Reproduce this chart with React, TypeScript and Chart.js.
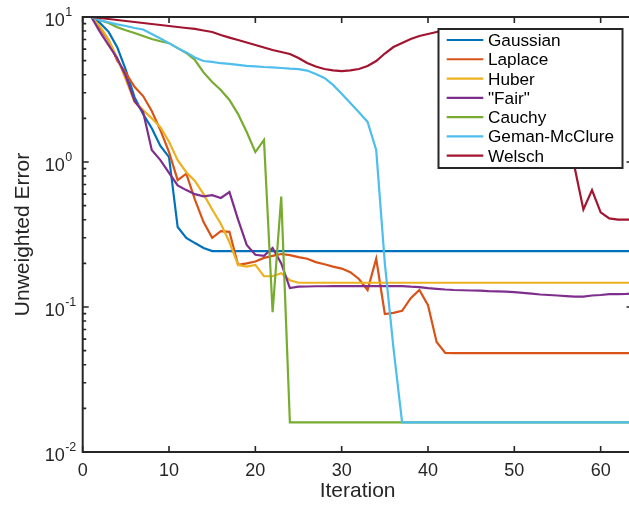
import React, { useEffect, useRef } from 'react';
import { Chart, registerables } from 'chart.js';

Chart.register(...registerables);

const iterations = [
  1, 2, 3, 4, 5, 6, 7, 8, 9, 10, 11, 12, 13, 14, 15, 16, 17, 18, 19, 20, 21, 22, 23, 24, 25, 26, 27, 28, 29, 30, 31, 32,
  33, 34, 35, 36, 37, 38, 39, 40, 41, 42, 43, 44, 45, 46, 47, 48, 49, 50, 51, 52, 53, 54, 55, 56, 57, 58, 59, 60, 61, 62, 63, 64,
];

const seriesNames = ['Gaussian', 'Laplace', 'Huber', '"Fair"', 'Cauchy', 'Geman-McClure', 'Welsch'];
const seriesColors = ['#0072BD', '#D95319', '#EDB120', '#7E2F8E', '#77AC30', '#4DBEEE', '#A2142F'];

const gaussian = [
  10, 9.1, 7.9, 6.2, 4.3, 2.8, 2.14, 1.71, 1.29, 1.08, 0.356, 0.3, 0.276, 0.255, 0.243, 0.243,
  0.243, 0.243, 0.243, 0.243, 0.243, 0.243, 0.243, 0.243, 0.243, 0.243, 0.243, 0.243, 0.243, 0.243, 0.243, 0.243,
  0.243, 0.243, 0.243, 0.243, 0.243, 0.243, 0.243, 0.243, 0.243, 0.243, 0.243, 0.243, 0.243, 0.243, 0.243, 0.243,
  0.243, 0.243, 0.243, 0.243, 0.243, 0.243, 0.243, 0.243, 0.243, 0.243, 0.243, 0.243, 0.243, 0.243, 0.243, 0.243,
];

const laplace = [
  10, 8.4, 6.9, 5.0, 4.1, 3.3, 2.85, 2.25, 1.66, 1.17, 0.75, 0.83, 0.55, 0.385, 0.3, 0.334,
  0.33, 0.195, 0.2, 0.206, 0.218, 0.225, 0.232, 0.228, 0.221, 0.215, 0.204, 0.197, 0.19, 0.184, 0.174, 0.156,
  0.131, 0.215, 0.0895, 0.091, 0.094, 0.115, 0.131, 0.103, 0.0574, 0.0482, 0.048, 0.048, 0.048, 0.048, 0.048, 0.048,
  0.048, 0.048, 0.048, 0.048, 0.048, 0.048, 0.048, 0.048, 0.048, 0.048, 0.048, 0.048, 0.048, 0.048, 0.048, 0.048,
];

const huber = [
  10, 8.6, 7.0, 5.2, 3.7, 2.6, 2.28, 2.0, 1.74, 1.38, 1.03, 0.85, 0.74, 0.6, 0.47, 0.375,
  0.28, 0.195, 0.19, 0.195, 0.163, 0.163, 0.171, 0.153, 0.147, 0.147, 0.147, 0.147, 0.147, 0.147, 0.147, 0.147,
  0.147, 0.147, 0.147, 0.147, 0.147, 0.147, 0.147, 0.147, 0.147, 0.147, 0.147, 0.147, 0.147, 0.147, 0.147, 0.147,
  0.147, 0.147, 0.147, 0.147, 0.147, 0.147, 0.147, 0.147, 0.147, 0.147, 0.147, 0.147, 0.147, 0.147, 0.147, 0.147,
];

const fair = [
  10, 7.9, 6.4, 5.2, 3.9, 2.64, 2.21, 1.21, 1.03, 0.84, 0.69, 0.64, 0.6, 0.58, 0.59, 0.565,
  0.62, 0.4, 0.268, 0.229, 0.225, 0.255, 0.2, 0.135, 0.138, 0.1385, 0.139, 0.139, 0.1395, 0.1395, 0.1395, 0.1395,
  0.1395, 0.1395, 0.1395, 0.1395, 0.1395, 0.138, 0.137, 0.135, 0.1335, 0.132, 0.131, 0.1305, 0.13, 0.1295, 0.1285, 0.128,
  0.1275, 0.1265, 0.125, 0.1235, 0.122, 0.121, 0.12, 0.119, 0.118, 0.118, 0.12, 0.121, 0.1225, 0.1225, 0.123, 0.124,
];

const cauchy = [
  10, 9.5, 9.1, 8.5, 8.1, 7.76, 7.4, 7.05, 6.8, 6.6, 6.1, 5.65, 5.05, 4.15, 3.56, 3.14,
  2.68, 2.14, 1.61, 1.17, 1.42, 0.092, 0.577, 0.016, 0.016, 0.016, 0.016, 0.016, 0.016, 0.016, 0.016, 0.016,
  0.016, 0.016, 0.016, 0.016, 0.016, 0.016, 0.016, 0.016, 0.016, 0.016, 0.016, 0.016, 0.016, 0.016, 0.016, 0.016,
  0.016, 0.016, 0.016, 0.016, 0.016, 0.016, 0.016, 0.016, 0.016, 0.016, 0.016, 0.016, 0.016, 0.016, 0.016, 0.016,
];

const gemanMcClure = [
  10, 9.5, 9.2, 8.9, 8.67, 8.4, 8.2, 7.63, 7.1, 6.6, 6.1, 5.7, 5.26, 4.97, 4.9, 4.8,
  4.75, 4.67, 4.6, 4.56, 4.52, 4.5, 4.45, 4.4, 4.37, 4.27, 4.05, 3.8, 3.4, 2.96, 2.55, 2.2,
  1.89, 1.21, 0.2, 0.052, 0.016, 0.016, 0.016, 0.016, 0.016, 0.016, 0.016, 0.016, 0.016, 0.016, 0.016, 0.016,
  0.016, 0.016, 0.016, 0.016, 0.016, 0.016, 0.016, 0.016, 0.016, 0.016, 0.016, 0.016, 0.016, 0.016, 0.016, 0.016,
];

const welsch = [
  10, 9.84, 9.69, 9.53, 9.38, 9.24, 9.09, 8.95, 8.81, 8.67, 8.53, 8.4, 8.27, 8.07, 7.88, 7.51,
  7.21, 6.94, 6.67, 6.41, 6.16, 5.92, 5.74, 5.56, 5.22, 4.82, 4.56, 4.38, 4.28, 4.24, 4.28, 4.38,
  4.59, 4.97, 5.6, 6.21, 6.62, 7.05, 7.39, 7.63, 7.88, 8.1, 8.25, 8.2, 8.15, 8.15, 8.15, 8.15,
  8.15, 8.1, 8.1, 8.1, 8.05, 7.9, 3.68, 1.8, 0.91, 0.47, 0.64, 0.45, 0.408, 0.4, 0.4, 0.4,
];

const seriesValues = [gaussian, laplace, huber, fair, cauchy, gemanMcClure, welsch];

const xMin = 0;
const xMax = 63.69;
const yMin = 0.01;
const yMax = 10;
const xTicks = [0, 10, 20, 30, 40, 50, 60];
const yTickExponents = [-2, -1, 0, 1];
const xTitle = 'Iteration';
const yTitle = 'Unweighted Error';

const FONT = '"Liberation Sans", Arial, Helvetica, sans-serif';
const AXIS_COLOR = '#262626';

const matlabDecor = {
  id: 'matlabDecor',
  afterDraw(chart: any) {
    const { ctx, chartArea: a, scales } = chart;
    const xs = scales.x;
    const ys = scales.y;
    ctx.save();

    // axis box
    ctx.strokeStyle = AXIS_COLOR;
    ctx.lineWidth = 2;
    ctx.beginPath();
    ctx.moveTo(a.left, a.top);
    ctx.lineTo(a.right, a.top);
    ctx.moveTo(a.left, a.bottom);
    ctx.lineTo(a.right, a.bottom);
    ctx.moveTo(a.left, a.top - 1);
    ctx.lineTo(a.left, a.bottom + 1);
    ctx.moveTo(a.right, a.top - 1);
    ctx.lineTo(a.right, a.bottom + 1);
    ctx.stroke();

    // x ticks (inward, top and bottom)
    ctx.lineWidth = 1.6;
    ctx.beginPath();
    for (const v of xTicks) {
      const px = xs.getPixelForValue(v);
      ctx.moveTo(px, a.bottom);
      ctx.lineTo(px, a.bottom - 6);
      ctx.moveTo(px, a.top);
      ctx.lineTo(px, a.top + 6);
    }
    // y ticks (major + minor), left and right
    for (let i = 0; i < yTickExponents.length; i++) {
      const e = yTickExponents[i];
      const last = i === yTickExponents.length - 1;
      for (let m = 1; m <= (last ? 1 : 9); m++) {
        const py = ys.getPixelForValue(m * Math.pow(10, e));
        const len = m === 1 ? 6 : 3.5;
        ctx.moveTo(a.left, py);
        ctx.lineTo(a.left + len, py);
        ctx.moveTo(a.right, py);
        ctx.lineTo(a.right - len, py);
      }
    }
    ctx.stroke();

    // x tick labels
    ctx.fillStyle = AXIS_COLOR;
    ctx.font = `18px ${FONT}`;
    ctx.textAlign = 'center';
    ctx.textBaseline = 'alphabetic';
    for (const v of xTicks) {
      ctx.fillText(String(v), xs.getPixelForValue(v), a.bottom + 23.5);
    }

    // y tick labels 10^e
    for (const e of yTickExponents) {
      const py = ys.getPixelForValue(Math.pow(10, e));
      ctx.font = `18px ${FONT}`;
      ctx.textAlign = 'right';
      ctx.fillText('10', a.left - 18, py + 8.5);
      ctx.font = `12.5px ${FONT}`;
      ctx.textAlign = 'left';
      ctx.fillText(String(e), a.left - 17.5, py - 1);
    }

    // axis titles
    ctx.font = `21px ${FONT}`;
    ctx.textAlign = 'center';
    ctx.fillText(xTitle, (a.left + a.right) / 2, a.bottom + 45);
    ctx.save();
    ctx.translate(29, (a.top + a.bottom) / 2);
    ctx.rotate(-Math.PI / 2);
    ctx.fillText(yTitle, 0, 0);
    ctx.restore();

    // legend
    const bx = 438.5, by = 29, bw = 184, bh = 139;
    ctx.fillStyle = '#ffffff';
    ctx.fillRect(bx, by, bw, bh);
    ctx.strokeStyle = AXIS_COLOR;
    ctx.lineWidth = 2;
    ctx.strokeRect(bx, by, bw, bh);
    ctx.font = `17.2px ${FONT}`;
    ctx.textAlign = 'left';
    for (let i = 0; i < seriesNames.length; i++) {
      const ry = 40 + i * 19.27;
      ctx.strokeStyle = seriesColors[i];
      ctx.lineWidth = 2.2;
      ctx.beginPath();
      ctx.moveTo(446.7, ry);
      ctx.lineTo(483.3, ry);
      ctx.stroke();
      ctx.fillStyle = '#000000';
      ctx.fillText(seriesNames[i], 488, ry + 6);
    }
    ctx.restore();
  },
};

export default function App() {
  const ref = useRef<HTMLCanvasElement>(null);
  useEffect(() => {
    document.body.style.margin = '0';
    document.body.style.overflow = 'hidden';
    const canvas = ref.current!;
    const chart = new Chart(canvas, {
      type: 'line',
      data: {
        labels: iterations,
        datasets: seriesNames.map((name, i) => ({
          label: name,
          data: seriesValues[i],
          borderColor: seriesColors[i],
          backgroundColor: seriesColors[i],
          borderWidth: 2.2,
          pointRadius: 0,
          tension: 0,
          fill: false,
          order: seriesNames.length - 1 - i,
        })),
      },
      options: {
        responsive: false,
        animation: false,
        devicePixelRatio: 1,
        layout: { padding: { left: 82.7, top: 17, right: 7.5, bottom: 53 } },
        plugins: { legend: { display: false }, tooltip: { enabled: false }, title: { display: false } },
        scales: {
          x: { type: 'linear', min: xMin, max: xMax, display: false },
          y: { type: 'logarithmic', min: yMin, max: yMax, display: false },
        },
      },
      plugins: [matlabDecor],
    });
    return () => chart.destroy();
  }, []);
  return (
    <div style={{ position: 'fixed', left: 0, top: 0, width: 629, height: 505, overflow: 'hidden', background: '#fff' }}>
      <canvas ref={ref} width={640} height={505} style={{ width: 640, height: 505, display: 'block' }} />
    </div>
  );
}
